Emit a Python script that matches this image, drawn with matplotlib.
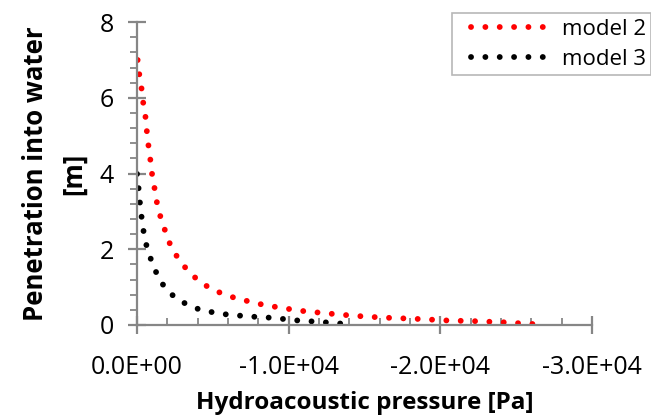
import matplotlib.pyplot as plt
from matplotlib.lines import Line2D
from matplotlib.legend_handler import HandlerLine2D
from matplotlib.ticker import MultipleLocator, FuncFormatter

# pressure [Pa] and penetration depth [m] for both models
pressure_m2 = [-44, -154, -308, -418, -571, -659, -769, -901, -1011, -1187,
               -1341, -1582, -1890, -2220, -2725, -3319, -4000, -4813, -5670,
               -6571, -7516, -8462, -9429, -10374, -11295, -12243, -13208,
               -14155, -15120, -16088, -17056, -17999, -18968, -19932, -20880,
               -21843, -22812, -23781, -24724, -25693, -26637]
depth_m2 = [7.00, 6.62, 6.23, 5.85, 5.47, 5.08, 4.70, 4.31, 3.93, 3.55,
            3.17, 2.81, 2.45, 2.09, 1.75, 1.45, 1.19, 0.97, 0.82,
            0.70, 0.61, 0.52, 0.46, 0.40, 0.35, 0.32, 0.28,
            0.25, 0.22, 0.20, 0.18, 0.17, 0.15, 0.13, 0.11,
            0.11, 0.09, 0.08, 0.06, 0.03, 0.02]

pressure_m3 = [0, -110, -198, -308, -440, -637, -923, -1297, -1780, -2440,
               -3253, -4110, -5055, -6044, -6989, -7956, -8901, -9846,
               -10813, -11780, -12725, -13692]
depth_m3 = [3.99, 3.60, 3.22, 2.84, 2.46, 2.08, 1.73, 1.36, 1.02, 0.75,
            0.55, 0.41, 0.33, 0.27, 0.24, 0.21, 0.19, 0.15,
            0.11, 0.09, 0.06, 0.03]

plt.rcParams['font.family'] = ['Open Sans', 'DejaVu Sans']
axis_grey = '#868686'

fig = plt.figure(figsize=(6.51, 4.16), dpi=100)
ax = fig.add_axes([0.2104, 0.2188, 0.699, 0.728])

# round dots along the curves
dots = (0, (0.01, 2.45))
ax.plot(pressure_m2, depth_m2, color='#ff0000', lw=4.2, linestyle=dots,
        dash_capstyle='round', label='model 2')
ax.plot(pressure_m3, depth_m3, color='black', lw=4.2, linestyle=dots,
        dash_capstyle='round', label='model 3')

ax.set_xlim(0, -30000)
ax.set_ylim(0, 8)
ax.xaxis.set_major_locator(MultipleLocator(10000))
ax.xaxis.set_minor_locator(MultipleLocator(2000))
ax.yaxis.set_major_locator(MultipleLocator(2))
ax.yaxis.set_minor_locator(MultipleLocator(0.4))
ax.xaxis.set_major_formatter(FuncFormatter(
    lambda v, p: '0.0E+00' if v == 0 else f'{v:.1E}'))

for side in ['top', 'right']:
    ax.spines[side].set_visible(False)
for side in ['left', 'bottom']:
    ax.spines[side].set_color(axis_grey)
    ax.spines[side].set_linewidth(1.6)

ax.tick_params(axis='both', which='major', direction='inout', length=13,
               width=1.6, color=axis_grey, labelsize=18)
ax.tick_params(axis='x', which='major', pad=15)
ax.tick_params(axis='y', which='major', pad=10)
ax.tick_params(axis='x', which='minor', direction='in', length=5,
               width=1.3, color=axis_grey)
ax.tick_params(axis='y', which='minor', direction='out', length=5,
               width=1.3, color=axis_grey)

ax.set_xlabel('Hydroacoustic pressure [Pa]', fontsize=17.5, fontweight='bold',
              labelpad=8)
ax.set_ylabel('Penetration into water\n[m]', fontsize=18.5, fontweight='bold',
              labelpad=9, linespacing=1.55)

leg = fig.legend(loc='upper left', bbox_to_anchor=(0.694, 0.968),
                 fontsize=16, handlelength=4.4, frameon=True, fancybox=False,
                 borderpad=0.25, labelspacing=0.4, handletextpad=0.3,
                 borderaxespad=0,
                 handler_map={Line2D: HandlerLine2D(xpad=0.6)})
leg.get_frame().set_edgecolor('#a6a6a6')
leg.get_frame().set_linewidth(1.2)

fig.savefig('out.png', dpi=100)
